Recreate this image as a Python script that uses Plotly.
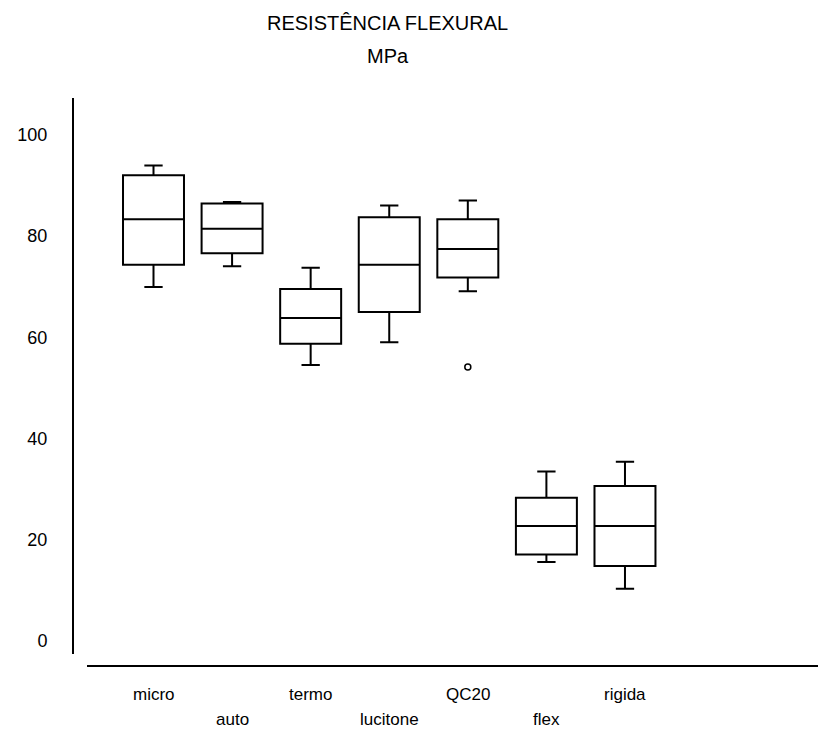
import plotly.graph_objects as go

categories = ["micro", "auto", "termo", "lucitone", "QC20", "flex", "rigida"]
upper_whisker = [93.9, 86.7, 73.7, 86.0, 87.0, 33.5, 35.4]
q3_values = [92.0, 86.4, 69.5, 83.7, 83.3, 28.3, 30.6]
medians = [83.3, 81.4, 63.8, 74.3, 77.4, 22.7, 22.7]
q1_values = [74.3, 76.6, 58.7, 65.0, 71.8, 17.1, 14.8]
lower_whisker = [69.9, 74.0, 54.5, 59.0, 69.1, 15.6, 10.3]
outlier_cat = ["QC20"]
outlier_val = [54.1]
y_ticks = [0, 20, 40, 60, 80, 100]

PW, PH = 818, 733          # page size
PL, PT, PB = 74, 98, 654   # plot area left / top / bottom in page pixels
plot_w = PW - PL
plot_h = PB - PT

font = "Liberation Sans, Arial, sans-serif"

fig = go.Figure()
fig.add_trace(go.Box(
    x=categories, q1=q1_values, median=medians, q3=q3_values,
    lowerfence=lower_whisker, upperfence=upper_whisker,
    boxpoints=False, width=0.776, whiskerwidth=0.3,
    fillcolor="white", line=dict(color="black", width=2),
    showlegend=False, hoverinfo="skip"))
fig.add_trace(go.Scatter(
    x=outlier_cat, y=outlier_val, mode="markers",
    marker=dict(symbol="circle-open", size=6, color="black", line=dict(width=1.5)),
    showlegend=False, hoverinfo="skip"))


def py(ypage):
    return (PB - ypage) / plot_h


def px(xpage):
    return (xpage - PL) / plot_w


for i, c in enumerate(categories):
    yrow = 694 if i % 2 == 0 else 719
    fig.add_annotation(x=c, xref="x", y=py(yrow), yref="paper",
                       text=c, showarrow=False, xanchor="center", yanchor="middle",
                       font=dict(family=font, size=17, color="black"))

fig.add_annotation(x=px(387.5), xref="paper", y=py(23), yref="paper",
                   text="RESISTÊNCIA FLEXURAL", showarrow=False, xanchor="center", yanchor="middle",
                   font=dict(family=font, size=20, color="black"))
fig.add_annotation(x=px(388), xref="paper", y=py(56), yref="paper",
                   text="MPa", showarrow=False, xanchor="center", yanchor="middle",
                   font=dict(family=font, size=20, color="black"))

fig.add_shape(type="line", xref="paper", yref="paper",
              x0=px(87), x1=1, y0=py(666), y1=py(666),
              line=dict(color="black", width=2))

px_per_cat = 78.58
r0 = -(153.5 - PL) / px_per_cat
r1 = r0 + plot_w / px_per_cat
px_per_unit = 5.063
y0 = -(PB - 641) / px_per_unit
y1 = (641 - PT) / px_per_unit

fig.update_layout(
    width=PW, height=PH,
    margin=dict(l=PL, r=0, t=PT, b=PH - PB, pad=0),
    paper_bgcolor="white", plot_bgcolor="white",
    xaxis=dict(type="category", range=[r0, r1], showticklabels=False, showgrid=False,
               zeroline=False, showline=False, ticks=""),
    yaxis=dict(range=[y0, y1], tickvals=y_ticks, ticktext=[str(v) for v in y_ticks],
               showgrid=False, zeroline=False, showline=True, linecolor="black", linewidth=2,
               ticks="", ticklabelstandoff=21,
               tickfont=dict(family=font, size=18, color="black")),
)

fig.write_html("out.html", config={"displayModeBar": False},
               post_script="document.body.style.margin='0px';document.body.style.overflow='hidden';")
